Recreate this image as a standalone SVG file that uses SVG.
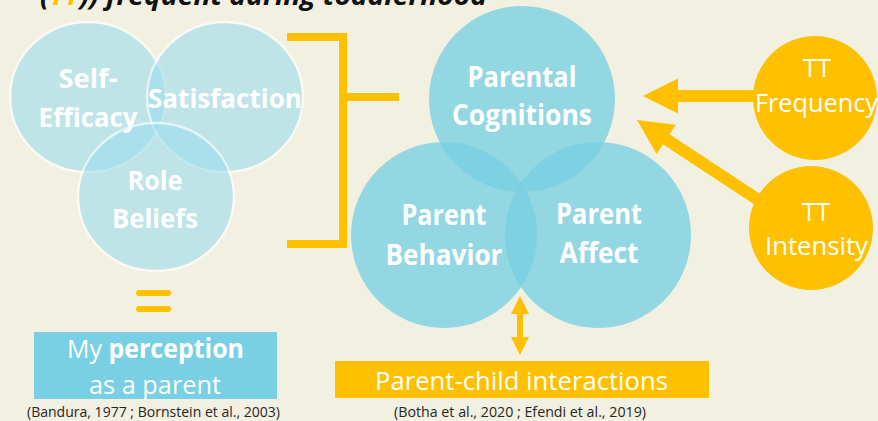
<svg xmlns="http://www.w3.org/2000/svg" width="878" height="421" viewBox="0 0 878 421">
<style>
.lc{fill:#9FDEED;stroke:#FFFFFF;stroke-width:2.5;opacity:0.62}
.rc{fill:#77CFE1;fill-opacity:0.78}
.yc{fill:#FFC000}
.bl{font-family:"Open Sans","Liberation Sans",sans-serif;font-weight:bold;fill:#FFFFFF;text-anchor:middle}
.wl{font-family:"Open Sans","Liberation Sans",sans-serif;fill:#FFFFFF}
.cit{font-family:"Open Sans","Liberation Sans",sans-serif;font-size:15px;fill:#262626}
</style>
<rect width="878" height="421" fill="#F2F0E1"/>
<g id="title">
<text x="40" y="5" font-family="'Open Sans','Liberation Sans',sans-serif" font-weight="bold" font-style="italic" font-size="27" fill="#111111" textLength="447" lengthAdjust="spacingAndGlyphs">(<tspan fill="#FFC000">TT</tspan>)) frequent during toddlerhood</text>
</g>
<g id="connectors">
<path d="M287,37 H343 V244 H287 M343,97 H399" fill="none" stroke="#FFC000" stroke-width="8"/>
<polygon class="yc" points="643,96 678,78.5 678,90 760,90 760,102 678,102 678,113.5"/>
<polygon class="yc" points="637,120 675.8,124.7 669.5,134.3 761.4,194.8 754.8,204.8 662.9,144.3 656.6,153.9"/>
<polygon class="yc" points="520,296 529,314 523,314 523,337 529,337 520,355 511,337 517,337 517,314 511,314"/>
<rect class="yc" x="136" y="290" width="35" height="6" rx="3"/>
<rect class="yc" x="136" y="306" width="35" height="6" rx="3"/>
</g>
<g id="self-efficacy">
<ellipse class="lc" cx="88" cy="97" rx="78" ry="75"/>
</g>
<g id="satisfaction">
<ellipse class="lc" cx="225" cy="97" rx="78" ry="75"/>
</g>
<g id="role-beliefs">
<ellipse class="lc" cx="156" cy="197" rx="78" ry="74"/>
</g>
<g id="left-labels">
<text class="bl" x="88" y="88" font-size="27" textLength="59" lengthAdjust="spacingAndGlyphs">Self-</text>
<text class="bl" x="88" y="127" font-size="27" textLength="99" lengthAdjust="spacingAndGlyphs">Efficacy</text>
<text class="bl" x="225" y="108" font-size="27" textLength="154" lengthAdjust="spacingAndGlyphs">Satisfaction</text>
<text class="bl" x="155" y="190" font-size="27" textLength="55" lengthAdjust="spacingAndGlyphs">Role</text>
<text class="bl" x="155" y="228" font-size="27" textLength="86" lengthAdjust="spacingAndGlyphs">Beliefs</text>
</g>
<g id="parental-cognitions">
<circle class="rc" cx="522" cy="99" r="93"/>
</g>
<g id="parent-behavior">
<circle class="rc" cx="444" cy="235" r="93"/>
</g>
<g id="parent-affect">
<circle class="rc" cx="598" cy="235" r="93"/>
</g>
<g id="right-labels">
<text class="bl" x="522" y="87" font-size="28" textLength="109" lengthAdjust="spacingAndGlyphs">Parental</text>
<text class="bl" x="522" y="125" font-size="28" textLength="140" lengthAdjust="spacingAndGlyphs">Cognitions</text>
<text class="bl" x="444" y="225" font-size="28" textLength="85" lengthAdjust="spacingAndGlyphs">Parent</text>
<text class="bl" x="444" y="265" font-size="28" textLength="117" lengthAdjust="spacingAndGlyphs">Behavior</text>
<text class="bl" x="599" y="224" font-size="28" textLength="86" lengthAdjust="spacingAndGlyphs">Parent</text>
<text class="bl" x="599" y="263" font-size="28" textLength="79" lengthAdjust="spacingAndGlyphs">Affect</text>
</g>
<g id="tt-frequency">
<circle class="yc" cx="815" cy="98" r="62"/>
<text class="wl" x="817" y="77" font-size="26" text-anchor="middle" textLength="28" lengthAdjust="spacingAndGlyphs">TT</text>
<text class="wl" x="755" y="112" font-size="26" textLength="123" lengthAdjust="spacingAndGlyphs">Frequency</text>
</g>
<g id="tt-intensity">
<circle class="yc" cx="811" cy="228" r="62"/>
<text class="wl" x="816" y="221" font-size="26" text-anchor="middle" textLength="28" lengthAdjust="spacingAndGlyphs">TT</text>
<text class="wl" x="765" y="255" font-size="26" textLength="103" lengthAdjust="spacingAndGlyphs">Intensity</text>
</g>
<g id="my-perception">
<rect x="34" y="332" width="243" height="67" fill="#79CFE3"/>
<text class="wl" x="67" y="358" font-size="26" textLength="177" lengthAdjust="spacingAndGlyphs">My <tspan font-weight="bold">perception</tspan></text>
<text class="wl" x="89" y="394" font-size="26" textLength="132" lengthAdjust="spacingAndGlyphs">as a parent</text>
<text class="cit" x="27" y="417" textLength="253" lengthAdjust="spacingAndGlyphs">(Bandura, 1977 ; Bornstein et al., 2003)</text>
</g>
<g id="parent-child-interactions">
<rect class="yc" x="335" y="361" width="374" height="37"/>
<text class="wl" x="375" y="390" font-size="26" textLength="293" lengthAdjust="spacingAndGlyphs">Parent-child interactions</text>
<text class="cit" x="394" y="417" textLength="252" lengthAdjust="spacingAndGlyphs">(Botha et al., 2020 ; Efendi et al., 2019)</text>
</g>
</svg>
